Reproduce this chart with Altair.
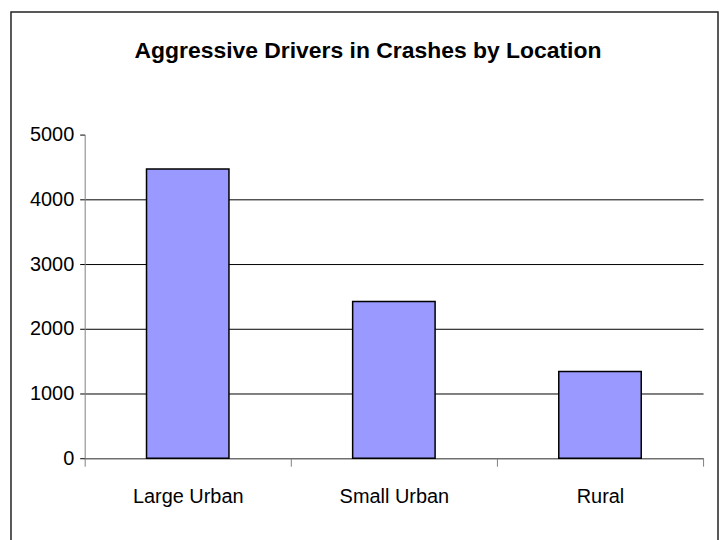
import altair as alt
import pandas as pd

categories = ["Large Urban", "Small Urban", "Rural"]
values = [4470, 2420, 1340]

df = pd.DataFrame({"location": categories, "drivers": values})
frame_df = pd.DataFrame({"k": [0]})

FONT = "Liberation Sans"

bars = alt.Chart(df).mark_bar(
    color="#9999FF", stroke="black", strokeWidth=1.5,
    width=alt.RelativeBandSize(0.4)
).encode(
    x=alt.X("location:N", sort=categories, title=None,
            scale=alt.Scale(paddingInner=0, paddingOuter=0),
            axis=alt.Axis(labelAngle=0, tickBand="extent", tickSize=8,
                          tickColor="#808080", domainColor="#808080",
                          labelFont=FONT, labelFontSize=20, labelColor="black",
                          labelPadding=20)),
    y=alt.Y("drivers:Q", title=None,
            scale=alt.Scale(domain=[0, 5000]),
            axis=alt.Axis(values=[0, 1000, 2000, 3000, 4000, 5000], tickSize=5,
                          format="d",
                          tickColor="black", domainColor="#808080",
                          grid=True,
                          gridColor=alt.condition("datum.value === 5000", alt.value("transparent"), alt.value("black")),
                          labelFont=FONT, labelFontSize=20, labelColor="black",
                          labelPadding=6)),
)

border = alt.Chart(frame_df).mark_rect(
    fill=None, stroke="#222222", strokeWidth=1.5
).encode(
    x=alt.value(-74), x2=alt.value(636), y=alt.value(-123), y2=alt.value(411)
)

chart = alt.layer(bars, border).properties(
    width=621, height=325,
    padding={"left": 77, "top": 126, "right": 16, "bottom": 81},
    autosize=alt.AutoSizeParams(type="none"),
    title=alt.TitleParams(
        "Aggressive Drivers in Crashes by Location",
        font=FONT, fontSize=23, fontWeight="bold", color="black",
        anchor="middle", dx=-26, offset=-70, baseline="alphabetic"
    ),
).configure_view(stroke=None)

chart.save("out.html", embed_options={"renderer": "svg", "actions": False})
